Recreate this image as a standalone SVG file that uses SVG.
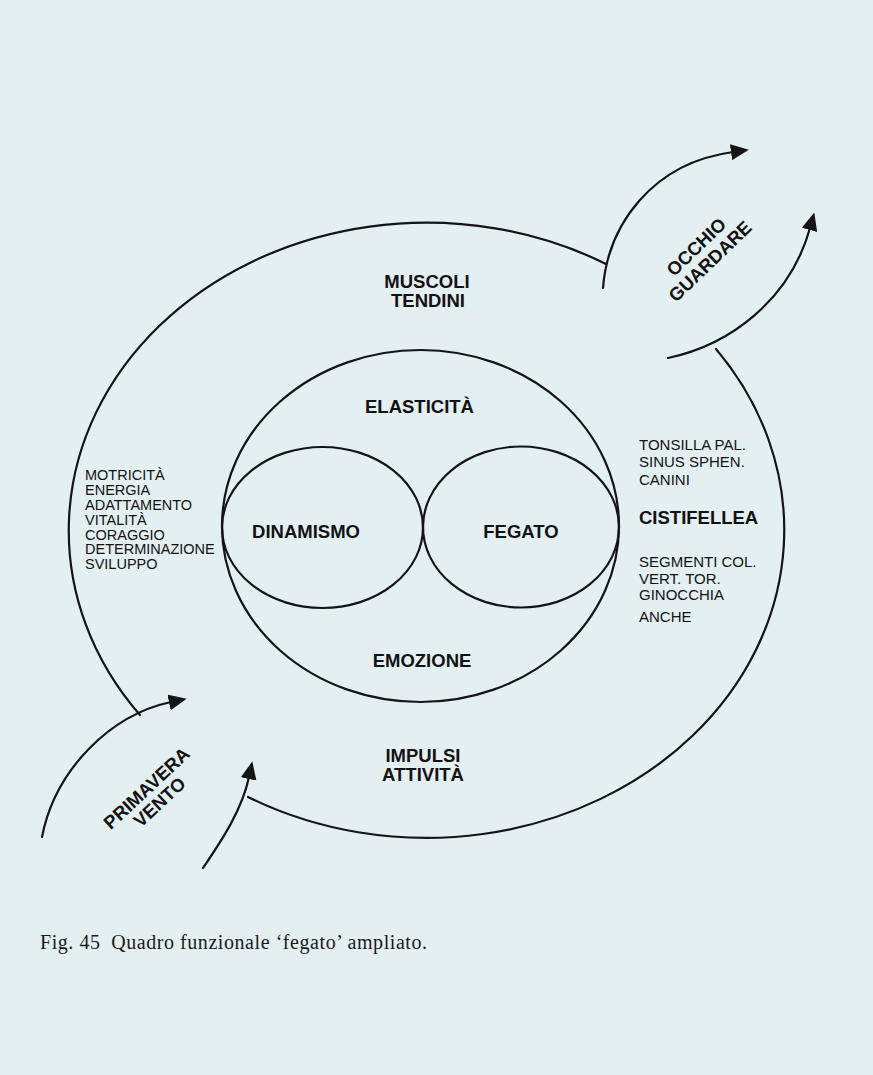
<svg xmlns="http://www.w3.org/2000/svg" width="873" height="1075" viewBox="0 0 873 1075">
<style>
.ln{fill:none;stroke:#141414;stroke-width:2.2;stroke-linecap:round}
.b{font-family:"Liberation Sans",Arial,sans-serif;font-weight:bold;font-size:18.5px;fill:#121212;text-anchor:middle}
.r{font-family:"Liberation Sans",Arial,sans-serif;font-size:14.5px;fill:#121212}
.r2{font-family:"Liberation Sans",Arial,sans-serif;font-size:15px;fill:#121212}
.cap{font-family:"Liberation Serif","Times New Roman",serif;font-size:20px;fill:#1a1a1a}
</style>
<defs>
<marker id="ah" viewBox="0 0 18 16" markerWidth="18" markerHeight="16" refX="2" refY="8" orient="auto" markerUnits="userSpaceOnUse">
<path d="M0,0 L18,8 L0,16 z" fill="#141414"/>
</marker>
</defs>
<rect x="0" y="0" width="873" height="1075" fill="#e4eff2"/>

<g id="connectors">
<path class="ln" d="M140,715 A358,308 0 0 1 606,264"/>
<path class="ln" d="M716,349 A358,308 0 0 1 248,797"/>
<path class="ln" marker-end="url(#ah)" d="M603,288 C608,225 652,163 733,152"/>
<path class="ln" marker-end="url(#ah)" d="M668,358 C730,345 790,300 810,228"/>
<path class="ln" marker-end="url(#ah)" d="M42,837 C55,770 110,715 171,702"/>
<path class="ln" marker-end="url(#ah)" d="M203,868 C222,840 242,810 249,777"/>
</g>

<g id="outer-labels">
<text class="b" x="427" y="288">MUSCOLI</text>
<text class="b" x="428" y="307">TENDINI</text>
<text class="b" x="423" y="762">IMPULSI</text>
<text class="b" x="423" y="781">ATTIVITÀ</text>
</g>

<g id="node-elasticita">
<ellipse class="ln" cx="420.5" cy="526" rx="198.5" ry="176"/>
<text class="b" x="419.5" y="413">ELASTICITÀ</text>
<text class="b" x="422" y="667">EMOZIONE</text>
</g>

<g id="node-dinamismo">
<ellipse class="ln" cx="322.5" cy="527.5" rx="100.5" ry="80.5"/>
<text class="b" x="306" y="538">DINAMISMO</text>
</g>

<g id="node-fegato">
<ellipse class="ln" cx="521" cy="527" rx="98" ry="80.5"/>
<text class="b" x="521" y="538">FEGATO</text>
</g>

<g id="list-left">
<text class="r" x="85" y="480">MOTRICITÀ</text>
<text class="r" x="85" y="495">ENERGIA</text>
<text class="r" x="85" y="510">ADATTAMENTO</text>
<text class="r" x="85" y="525">VITALITÀ</text>
<text class="r" x="85" y="540">CORAGGIO</text>
<text class="r" x="85" y="554">DETERMINAZIONE</text>
<text class="r" x="85" y="569">SVILUPPO</text>
</g>

<g id="list-right">
<text class="r2" x="639" y="450">TONSILLA PAL.</text>
<text class="r2" x="639" y="467">SINUS SPHEN.</text>
<text class="r2" x="639" y="485">CANINI</text>
<text class="b" x="639" y="524" style="text-anchor:start">CISTIFELLEA</text>
<text class="r2" x="639" y="567">SEGMENTI COL.</text>
<text class="r2" x="639" y="584">VERT. TOR.</text>
<text class="r2" x="639" y="600">GINOCCHIA</text>
<text class="r2" x="639" y="622">ANCHE</text>
</g>

<g id="node-occhio">
<text class="b" transform="translate(703,254) rotate(-44)"><tspan x="0" y="-3.4">OCCHIO</tspan><tspan x="0" y="16.6">GUARDARE</tspan></text>
</g>

<g id="node-primavera">
<text class="b" transform="translate(153,795) rotate(-43)"><tspan x="0" y="-3">PRIMAVERA</tspan><tspan x="0" y="16">VENTO</tspan></text>
</g>

<text class="cap" x="40" y="949" textLength="387" lengthAdjust="spacing">Fig. 45 <tspan dx="5">Quadro funzionale ‘fegato’ ampliato.</tspan></text>
</svg>
